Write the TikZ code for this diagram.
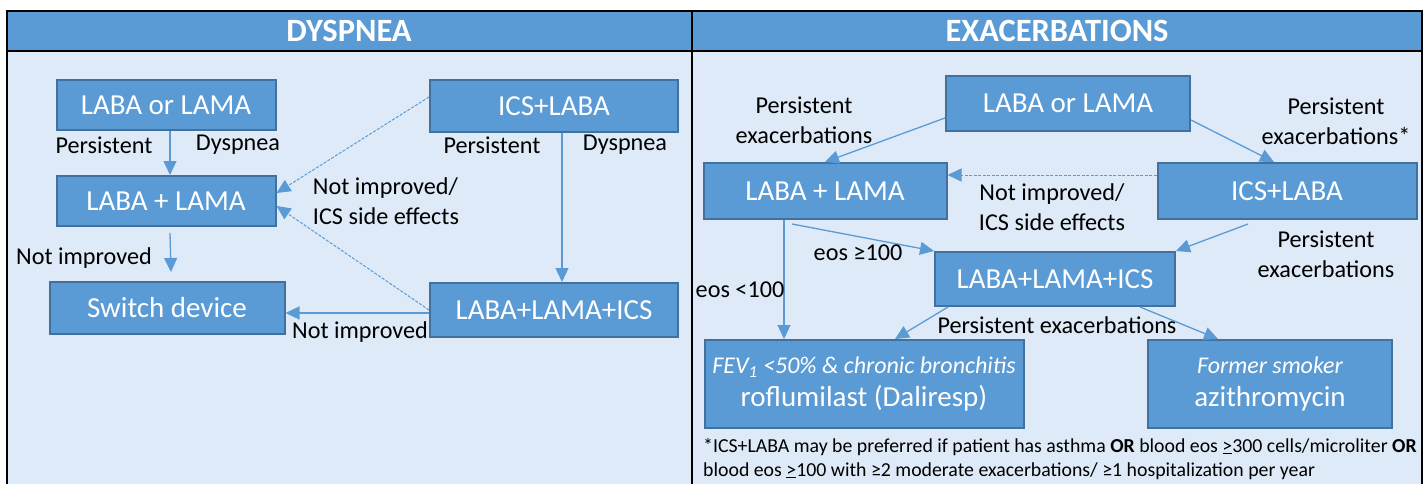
\documentclass[tikz,border=0pt]{standalone}
\usepackage{fontspec}
\setmainfont{Carlito}
\usetikzlibrary{arrows.meta}
\definecolor{hdr}{HTML}{5B9BD5}
\definecolor{bodybg}{HTML}{DEEAF7}
\definecolor{boxedge}{HTML}{41719C}
\definecolor{arr}{HTML}{5B9BD5}
\begin{document}
\begin{tikzpicture}[x=1pt,y=-1pt,
  box/.style={draw=boxedge, line width=2pt, fill=hdr, text=white, inner sep=0pt, align=center, font=\fontsize{29}{31}\selectfont},
  lbl/.style={inner sep=0pt, align=center, font=\fontsize{24.2}{30}\selectfont},
  hlbl/.style={inner sep=0pt, text=white, font=\bfseries\fontsize{32.5}{34}\selectfont},
  conn/.style={draw=arr, line width=1.3pt, -{Triangle[width=13pt,length=14pt]}},
  dconn/.style={draw=arr, line width=1pt, dash pattern=on 3pt off 1.5pt, -{Triangle[width=13pt,length=14pt]}},
  frame/.style={draw=black, line width=2.5pt},
]
\clip (0,0) rectangle (1428,483);
\fill[white] (0,0) rectangle (1428,483);
% table
\fill[bodybg] (7,51) rectangle (1422,500);
\fill[hdr] (7,11) rectangle (1422,51);
\draw[frame] (7,500) -- (7,11) -- (1422,11) -- (1422,500);
\draw[frame] (7,51) -- (1422,51);
\draw[frame] (692,11) -- (692,500);
\node[hlbl] (h1) at (349,31) {DYSPNEA};
\node[hlbl] (h2) at (1057,31) {EXACERBATIONS};

% left panel
\node[box, minimum width=219pt, minimum height=50pt] (l1) at (166,105) {LABA or LAMA};
\node[box, minimum width=219pt, minimum height=50pt] (l2) at (166,201) {LABA + LAMA};
\node[box, minimum width=235pt, minimum height=52pt] (l3) at (167,308) {Switch device};
\node[box, minimum width=248pt, minimum height=52pt] (l4) at (554,106) {ICS+LABA};
\node[box, minimum width=248pt, minimum height=54pt] (l5) at (554,310) {LABA+LAMA+ICS};

\draw[conn] ([xshift=4pt]l1.south) -- ([xshift=4pt]l2.north);
\draw[conn] ([xshift=4pt,yshift=-6pt]l2.south) -- ([xshift=4pt,yshift=9pt]l3.north);
\draw[conn] ([xshift=8pt]l4.south) -- ([xshift=8pt]l5.north);
\draw[dconn] ([yshift=9pt]l4.west) -- ([yshift=8pt]l2.east);
\draw[dconn] (l5.west) -- ([yshift=-5pt]l2.east);
\draw[conn] ([yshift=-3pt]l5.west) -- ([yshift=-3pt]l5.west -| l3.east);

\node[lbl] (t1) at (104,145) {Persistent};
\node[lbl] (t2) at (238,145) {Dyspnea};
\node[lbl] (t3) at (84,258) {Not improved};
\node[lbl] (t4) at (492,145) {Persistent};
\node[lbl] (t5) at (625,145) {Dyspnea};
\node[lbl, align=left] (t6) at (386,201) {Not improved/\\ICS side effects};
\node[lbl] (t7) at (360,332) {Not improved};

% right panel
\node[box, minimum width=244pt, minimum height=55pt] (r1) at (1068,103) {LABA or LAMA};
\node[box, minimum width=243pt, minimum height=56pt] (r2) at (825,191) {LABA + LAMA};
\node[box, minimum width=259pt, minimum height=56pt] (r3) at (1287,191) {ICS+LABA};
\node[box, minimum width=240pt, minimum height=54pt] (r4) at (1055,279) {LABA+LAMA+ICS};
\node[box, minimum width=319pt, minimum height=88pt] (r5) at (864,384)
  {{\itshape\fontsize{24}{30}\selectfont FEV\textsubscript{1} <50\% \& chronic bronchitis}\\[2pt]roflumilast (Daliresp)};
\node[box, minimum width=244pt, minimum height=88pt] (r6) at (1270,384)
  {{\itshape\fontsize{24}{30}\selectfont Former smoker}\\[2pt]azithromycin};

\draw[conn] ([yshift=-15pt]r1.west) -- (r2.north);
\draw[conn] ([yshift=-17pt]r1.east) -- ([xshift=-13pt]r3.north);
\draw[dconn] ([yshift=16pt]r3.west) -- ([yshift=16pt]r2.east);
\draw[conn] ([xshift=-33pt,yshift=-4pt]r2.south) -- (r4.north west);
\draw[conn] ([xshift=-39pt,yshift=-4pt]r3.south) -- (r4.north east);
\draw[conn] ([xshift=-41pt]r2.south) -- ([xshift=-80pt]r5.north);
\draw[conn] ([xshift=-107pt]r4.south) -- ([xshift=31pt]r5.north);
\draw[conn] ([xshift=85pt]r4.south) -- ([xshift=-52pt]r6.north);

\node[lbl] (u1) at (804,120) {Persistent\\exacerbations};
\node[lbl] (u2) at (1336,121) {Persistent\\exacerbations*};
\node[lbl] (u3) at (1052,207) {Not improved/\\ICS side effects};
\node[lbl] (u4) at (858,253) {eos ≥100};
\node[lbl] (u5) at (1326,254) {Persistent\\exacerbations};
\node[lbl] (u6) at (740,290) {eos <100};
\node[lbl] (u7) at (1057,325) {Persistent exacerbations};

\node[inner sep=0pt, anchor=north west, align=left, font=\fontsize{19.8}{24}\selectfont] (fn) at (703,438)
  {*ICS+LABA may be preferred if patient has asthma \textbf{OR} blood eos \underline{>}300 cells/microliter \textbf{OR}\\
   blood eos \underline{>}100 with ≥2 moderate exacerbations/ ≥1 hospitalization per year};
\end{tikzpicture}
\end{document}
